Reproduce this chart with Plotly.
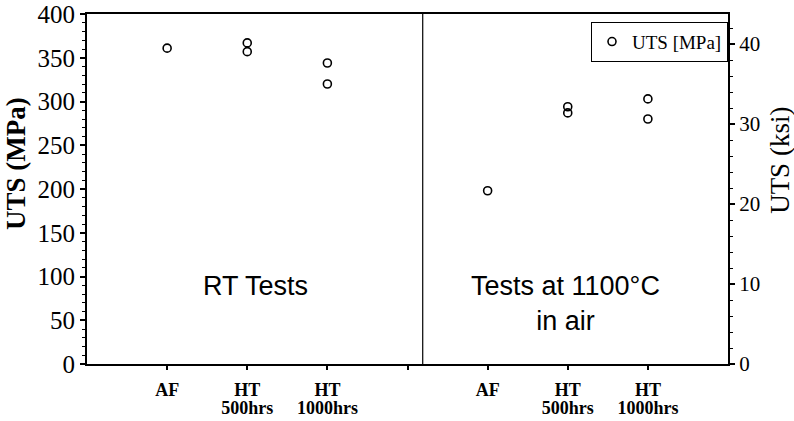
import plotly.graph_objects as go

# ---- data ----
categories = ["AF", "HT 500hrs", "HT 1000hrs"]
rt_values = [[361], [367, 357], [344, 320]]        # RT tests, MPa
hot_values = [[198], [294, 287], [303, 280]]       # 1100°C in air, MPa
rt_pos = [1, 2, 3]
hot_pos = [5, 6, 7]
tick_vals = [1, 2, 3, 4, 5, 6, 7]

first_line = [c.split(" ")[0] for c in categories]
second_line = [c.split(" ")[1] if " " in c else "" for c in categories]
tick_text1 = first_line + [""] + first_line
tick_text2 = second_line + [""] + second_line

xs, ys = [], []
for pos, vals in zip(rt_pos + hot_pos, rt_values + hot_values):
    for v in vals:
        xs.append(pos)
        ys.append(v)

SERIF = "Liberation Serif, Times New Roman, serif"
SANS = "Liberation Sans, Arial, sans-serif"

fig = go.Figure()
fig.add_trace(go.Scatter(
    x=xs, y=ys, mode="markers", name="UTS [MPa]",
    marker=dict(symbol="circle-open", size=8, color="black",
                line=dict(width=1.6, color="black")),
))
# dummy trace for right axis / second label row
fig.add_trace(go.Scatter(x=[None], y=[None], xaxis="x2", yaxis="y2",
                         showlegend=False))

xfont = dict(family=SERIF, size=18, color="black", weight="bold")

fig.update_layout(
    width=794, height=421,
    margin=dict(l=87, r=66, t=14, b=57),
    paper_bgcolor="white", plot_bgcolor="white",
    showlegend=True,
    legend=dict(x=1, xanchor="right", y=0.978, yanchor="top",
                bgcolor="white", bordercolor="black", borderwidth=1,
                font=dict(family=SERIF, size=19, color="black"),
                itemwidth=30),
    xaxis=dict(range=[0, 8], tickvals=tick_vals, ticktext=tick_text1,
               automargin=False, ticklabeloverflow="allow",
               ticks="outside", ticklen=4, tickwidth=1.5, tickcolor="black",
               ticklabelstandoff=4,
               showline=True, linecolor="black", linewidth=2, mirror=True,
               showgrid=False, zeroline=False, tickfont=xfont),
    xaxis2=dict(range=[0, 8], tickvals=tick_vals, ticktext=tick_text2,
                overlaying="x", side="bottom", anchor="y",
                automargin=False, ticklabeloverflow="allow",
                ticks="", ticklabelstandoff=31,
                showline=False, showgrid=False, zeroline=False,
                tickfont=xfont),
    yaxis=dict(range=[0, 400], dtick=50, ticks="outside", ticklen=5,
               automargin=False, ticklabeloverflow="allow",
               tickwidth=1.5, tickcolor="black",
               minor=dict(dtick=10, ticks="outside", ticklen=3,
                          tickcolor="black", tickwidth=1),
               showline=True, linecolor="black", linewidth=2,
               showgrid=False, zeroline=False,
               tickfont=dict(family=SERIF, size=25, color="black")),
    yaxis2=dict(range=[0, 43.75], dtick=10, overlaying="y", side="right",
                automargin=False, ticklabeloverflow="allow",
                ticks="outside", ticklen=5, tickwidth=1.5, tickcolor="black",
                minor=dict(dtick=2, ticks="outside", ticklen=3,
                           tickcolor="black", tickwidth=1),
                showline=True, linecolor="black", linewidth=2,
                showgrid=False, zeroline=False,
                tickfont=dict(family=SERIF, size=21, color="black")),
    shapes=[dict(type="line", xref="x", yref="paper", x0=4.19, x1=4.19,
                 y0=0, y1=1, line=dict(color="black", width=1.2))],
    annotations=[
        # axis titles
        dict(x=-0.111, y=0.574, xref="paper", yref="paper",
             text="<b>UTS (MPa)</b>", textangle=-90, showarrow=False,
             xanchor="center", yanchor="middle",
             font=dict(family=SERIF, size=27, color="black")),
        dict(x=1.081, y=0.583, xref="paper", yref="paper",
             text="UTS (ksi)", textangle=-90, showarrow=False,
             xanchor="center", yanchor="middle",
             font=dict(family=SERIF, size=27, color="black")),
        # panel labels
        dict(x=2.1, y=89, xref="x", yref="y", text="RT Tests",
             showarrow=False, font=dict(family=SANS, size=27, color="black")),
        dict(x=5.97, y=69, xref="x", yref="y",
             text="Tests at 1100°C<br>in air", showarrow=False,
             font=dict(family=SANS, size=27, color="black")),
    ],
)

# remove the browser's default 8px body margin so the figure fills the window
fig.write_html("out.html", config={"displayModeBar": False},
               post_script="document.body.style.margin='0';")
